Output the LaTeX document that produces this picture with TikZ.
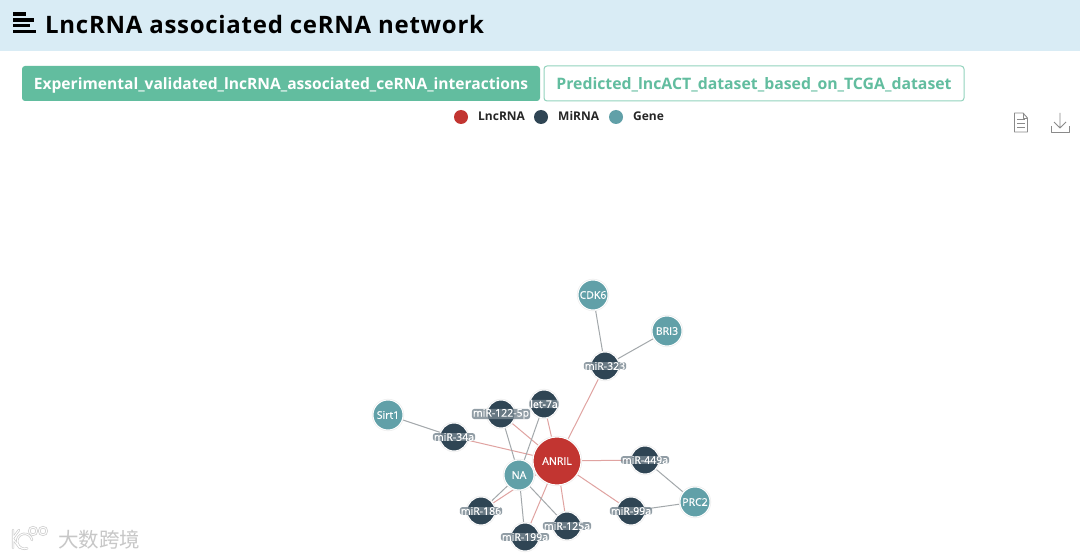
\documentclass[tikz,border=0pt]{standalone}
\usepackage{fontspec}
\setmainfont{Open Sans}
\newfontfamily\titlefont[LetterSpace=3.0]{Open Sans}
\newfontfamily\labelfont[FakeBold=0.6]{Open Sans}
\newfontfamily\cjkfont{Noto Sans CJK SC}
\definecolor{hdr}{HTML}{D9ECF5}
\definecolor{btn}{HTML}{62BD9F}
\definecolor{btnline}{HTML}{93D3BD}
\definecolor{lnc}{HTML}{C23531}
\definecolor{mir}{HTML}{2F4554}
\definecolor{gene}{HTML}{61A0A8}
\definecolor{redge}{HTML}{E0A3A1}
\definecolor{gedge}{HTML}{A3A8AB}
\definecolor{icon}{HTML}{8A8A8A}
\definecolor{halocol}{HTML}{76858F}
\tikzset{
  x=1pt,y=-1pt,
  net/.style={circle,draw=white,line width=1pt,inner sep=0pt,preaction={draw=black!7,line width=2.2pt}},
  lncnode/.style={net,fill=lnc,minimum size=48pt},
  mirnode/.style={net,fill=mir,minimum size=28pt},
  genenode/.style={net,fill=gene,minimum size=30pt},
  plainlabel/.style={inner sep=0.5pt,text=white,font=\labelfont\fontsize{10.5}{12}\selectfont},
  halo/.style={plainlabel,fill=halocol,fill opacity=.8,text opacity=1,rounded corners=2.5pt,inner xsep=1pt,inner ysep=0pt},
  redline/.style={draw=redge,line width=1pt},
  greyline/.style={draw=gedge,line width=1pt},
  legdot/.style={circle,inner sep=0pt,minimum size=14pt},
  legtext/.style={anchor=west,inner sep=0pt,text=black!85,font=\fontsize{12}{14}\bfseries\selectfont},
  iconline/.style={draw=icon,line width=0.9pt,line join=round},
  bar/.style={fill=black},
  wm/.style={draw=black!20,line width=2.4pt,line cap=round},
  wmw/.style={draw=white,line width=1pt,line cap=round},
  btnbase/.style={anchor=center,inner sep=0pt,minimum height=35pt,text height=13pt,text depth=1pt,rounded corners=3pt}
}
\begin{document}
\begin{tikzpicture}
\useasboundingbox (0,0) rectangle (1080,559);
\fill[white] (0,0) rectangle (1080,559);
\fill[hdr] (0,0) rectangle (1080,51);
% hamburger
\fill[bar] (12.5,12.5) rectangle (26,16);
\fill[bar] (12.5,18.5) rectangle (34,22);
\fill[bar] (12.5,24) rectangle (30,27.5);
\fill[bar] (12.5,30) rectangle (35.5,33.5);
\node[anchor=west,inner sep=0pt,font=\titlefont\fontsize{24}{28}\bfseries\selectfont] (title) at (45,25) {LncRNA associated ceRNA network};
% buttons
\node[btnbase,minimum width=518pt,fill=btn,text=white,font=\fontsize{15.6}{19}\bfseries\selectfont] (b1) at (281,83.5) {Experimental\_validated\_lncRNA\_associated\_ceRNA\_interactions};
\node[btnbase,minimum width=420pt,draw=btnline,line width=1pt,fill=white,text=btn,font=\fontsize{15.8}{19}\bfseries\selectfont] (b2) at (754,83.5) {Predicted\_lncACT\_dataset\_based\_on\_TCGA\_dataset};
% legend
\node[legdot,fill=lnc] (l1) at (461,117) {};
\node[legtext] (l1t) at (478,116) {LncRNA};
\node[legdot,fill=mir] (l2) at (541,117) {};
\node[legtext] (l2t) at (558,116) {MiRNA};
\node[legdot,fill=gene] (l3) at (616,117) {};
\node[legtext] (l3t) at (633,116) {Gene};
% icons
\draw[iconline] (1014.5,113) -- (1023,113) -- (1027.5,118) -- (1027.5,132) -- (1014.5,132) -- cycle;
\draw[iconline] (1023,113) -- (1023,118) -- (1027.5,118);
\draw[iconline] (1017,119) -- (1025,119) (1017,123) -- (1025,123) (1017,127) -- (1025,127);
\draw[iconline] (1060,113) -- (1060,128) (1054,122) -- (1060,128) -- (1066,122);
\draw[iconline] (1051,126) -- (1051,132.5) -- (1069,132.5) -- (1069,126);
% network positions
\coordinate (cANRIL) at (557,461);
\coordinate (cNA) at (519,475);
\coordinate (cCDK) at (593,295);
\coordinate (cBRI) at (667,331);
\coordinate (c323) at (605,366);
\coordinate (clet) at (544,404);
\coordinate (c122) at (501,414);
\coordinate (cSirt) at (388,415);
\coordinate (c34) at (454,437);
\coordinate (c449) at (645,460);
\coordinate (cPRC) at (695,502);
\coordinate (c99) at (631,511);
\coordinate (c125) at (567,526);
\coordinate (c199) at (525,537);
\coordinate (c186) at (481,511);
% edges
\draw[redline] (cANRIL) -- (c323);
\draw[redline] (cANRIL) -- (clet);
\draw[redline] (cANRIL) -- (c122);
\draw[redline] (cANRIL) -- (c34);
\draw[redline] (cANRIL) -- (c449);
\draw[redline] (cANRIL) -- (c99);
\draw[redline] (cANRIL) -- (c125);
\draw[redline] (cANRIL) -- (c199);
\draw[redline] (cANRIL) -- (c186);
\draw[greyline] (c323) -- (cCDK);
\draw[greyline] (c323) -- (cBRI);
\draw[greyline] (c34) -- (cSirt);
\draw[greyline] (c449) -- (cPRC);
\draw[greyline] (c99) -- (cPRC);
\draw[greyline] (cNA) -- (c122);
\draw[greyline] (cNA) -- (clet);
\draw[greyline] (cNA) -- (c186);
\draw[greyline] (cNA) -- (c199);
\draw[greyline] (cNA) -- (c125);
% nodes
\node[genenode] (CDK) at (cCDK) {};
\node[genenode] (BRI) at (cBRI) {};
\node[genenode] (Sirt) at (cSirt) {};
\node[genenode] (PRC) at (cPRC) {};
\node[genenode] (NA) at (cNA) {};
\node[lncnode] (ANRIL) at (cANRIL) {};
\node[mirnode] (m323) at (c323) {};
\node[mirnode] (mlet) at (clet) {};
\node[mirnode] (m122) at (c122) {};
\node[mirnode] (m34) at (c34) {};
\node[mirnode] (m449) at (c449) {};
\node[mirnode] (m99) at (c99) {};
\node[mirnode] (m125) at (c125) {};
\node[mirnode] (m199) at (c199) {};
\node[mirnode] (m186) at (c186) {};
% labels
\node[plainlabel] (tCDK) at (cCDK) {CDK6};
\node[plainlabel] (tBRI) at (cBRI) {BRI3};
\node[plainlabel] (tSirt) at (cSirt) {Sirt1};
\node[plainlabel] (tPRC) at (cPRC) {PRC2};
\node[plainlabel] (tNA) at (cNA) {NA};
\node[plainlabel] (tAN) at (cANRIL) {ANRIL};
\node[halo] (t323) at (c323) {miR-323};
\node[halo] (tlet) at (clet) {let-7a};
\node[halo] (t122) at (c122) {miR-122-5p};
\node[halo] (t34) at (c34) {miR-34a};
\node[halo] (t449) at (c449) {miR-449a};
\node[halo] (t99) at (c99) {miR-99a};
\node[halo] (t125) at (c125) {miR-125a};
\node[halo] (t199) at (c199) {miR-199a};
\node[halo] (t186) at (c186) {miR-186};
% watermark
\draw[wm] (13,530) -- (13,548) (13,538) -- (19,530) (13,539) -- (20,548);
\draw[wm] (32,540) arc[start angle=-10,end angle=-290,radius=7.5];
\draw[wm] (33,531) circle[radius=3.8] (43,531) circle[radius=3.8];
\draw[wmw] (13,530) -- (13,548) (13,538) -- (19,530) (13,539) -- (20,548);
\draw[wmw] (32,540) arc[start angle=-10,end angle=-290,radius=7.5];
\draw[wmw] (33,531) circle[radius=3.8] (43,531) circle[radius=3.8];
\node[inner sep=0pt,text=black!22,font=\cjkfont\fontsize{20.5}{22}\selectfont,anchor=west] (wmt) at (58,540) {大数跨境};
\end{tikzpicture}
\end{document}
